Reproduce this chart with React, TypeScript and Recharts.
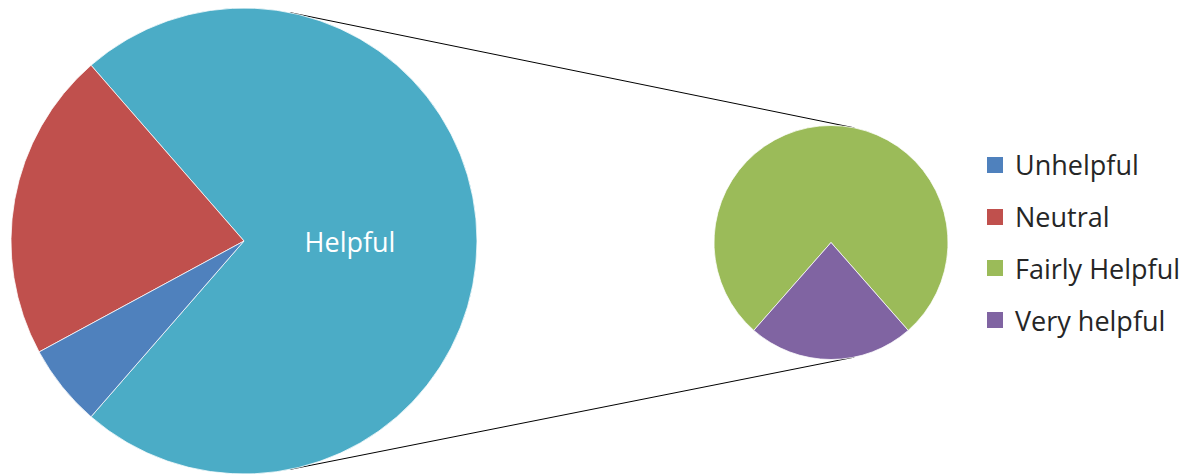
import React from 'react';
import { Cell, Customized, Legend, Pie, PieChart } from 'recharts';

// survey shares (%)
const MAIN_NAMES = ['Neutral', 'Unhelpful'];
const MAIN_VALUES = [21.5, 5.7];
const OTHER_NAME = 'Helpful';
const SUB_NAMES = ['Fairly Helpful', 'Very helpful'];
const SUB_VALUES = [56.1, 16.7];
const LEGEND_NAMES = ['Unhelpful', 'Neutral', 'Fairly Helpful', 'Very helpful'];

const COLORS: Record<string, string> = {
  Unhelpful: '#4F81BD',
  Neutral: '#C0504D',
  'Fairly Helpful': '#9BBB59',
  'Very helpful': '#8064A2',
  Helpful: '#4BACC6',
};

const FONT = '"Open Sans", "Noto Sans", sans-serif';
const WIDTH = 1197;
const HEIGHT = 474;
const BIG = { cx: 244, cy: 241, r: 233 };
const SMALL = { cx: 831, cy: 242.5, r: 117 };
const CONNECT_ANGLE = 78.5;
const RAD = Math.PI / 180;

const otherValue = SUB_VALUES.reduce((a, b) => a + b, 0);
const total = otherValue + MAIN_VALUES.reduce((a, b) => a + b, 0);

const mainData = [
  { name: OTHER_NAME, value: otherValue },
  ...MAIN_NAMES.map((name, i) => ({ name, value: MAIN_VALUES[i] })),
];
const subData = SUB_NAMES.map((name, i) => ({ name, value: SUB_VALUES[i] }));

// the "other" slice sits centred on the right, the small slice centred at the bottom
const mainStart = -((otherValue / total) * 360) / 2;
const subStart = -90 + ((SUB_VALUES[1] / otherValue) * 360) / 2;

function edgePoint(c: { cx: number; cy: number; r: number }, angle: number) {
  return { x: c.cx + c.r * Math.cos(angle * RAD), y: c.cy - c.r * Math.sin(angle * RAD) };
}

function Connectors() {
  const lines = [CONNECT_ANGLE, -CONNECT_ANGLE].map((a) => [edgePoint(BIG, a), edgePoint(SMALL, a)]);
  return (
    <g>
      {lines.map(([p, q], i) => (
        <line key={i} x1={p.x} y1={p.y} x2={q.x} y2={q.y} stroke="#000" strokeWidth={1} />
      ))}
    </g>
  );
}

function renderOtherLabel(props: any) {
  const name = props.payload?.name ?? props.name;
  if (name !== OTHER_NAME) return null;
  const r = props.outerRadius * 0.455;
  const x = props.cx + r * Math.cos(-props.midAngle * RAD);
  const y = props.cy + r * Math.sin(-props.midAngle * RAD);
  return (
    <text x={x} y={y} fill="#fff" textAnchor="middle" dominantBaseline="central" fontFamily={FONT} fontSize={27}>
      {OTHER_NAME}
    </text>
  );
}

function LegendBlock() {
  return (
    <div style={{ fontFamily: FONT, fontSize: 27, color: '#262626' }}>
      {LEGEND_NAMES.map((name) => (
        <div key={name} style={{ display: 'flex', alignItems: 'center', height: 51.8 }}>
          <span style={{ width: 16, height: 16, background: COLORS[name], display: 'inline-block', marginRight: 12 }} />
          <span style={{ whiteSpace: 'nowrap' }}>{name}</span>
        </div>
      ))}
    </div>
  );
}

export default function App() {
  return (
    <div style={{ position: 'absolute', left: 0, top: 0, width: WIDTH, height: HEIGHT, background: '#fff' }}>
      <PieChart width={WIDTH} height={HEIGHT} margin={{ top: 0, right: 0, bottom: 0, left: 0 }}>
        <Customized component={Connectors} />
        <Pie
          data={mainData}
          dataKey="value"
          nameKey="name"
          cx={BIG.cx}
          cy={BIG.cy}
          outerRadius={BIG.r}
          startAngle={mainStart}
          endAngle={mainStart + 360}
          stroke="#fff"
          strokeWidth={0.75}
          label={renderOtherLabel}
          labelLine={false}
          isAnimationActive={false}
        >
          {mainData.map((d) => (
            <Cell key={d.name} fill={COLORS[d.name]} />
          ))}
        </Pie>
        <Pie
          data={subData}
          dataKey="value"
          nameKey="name"
          cx={SMALL.cx}
          cy={SMALL.cy}
          outerRadius={SMALL.r}
          startAngle={subStart}
          endAngle={subStart + 360}
          stroke="#fff"
          strokeWidth={0.75}
          isAnimationActive={false}
        >
          {subData.map((d) => (
            <Cell key={d.name} fill={COLORS[d.name]} />
          ))}
        </Pie>
        <Legend
          layout="vertical"
          content={() => <LegendBlock />}
          wrapperStyle={{ left: 987, top: 139, width: 210 }}
        />
      </PieChart>
    </div>
  );
}
